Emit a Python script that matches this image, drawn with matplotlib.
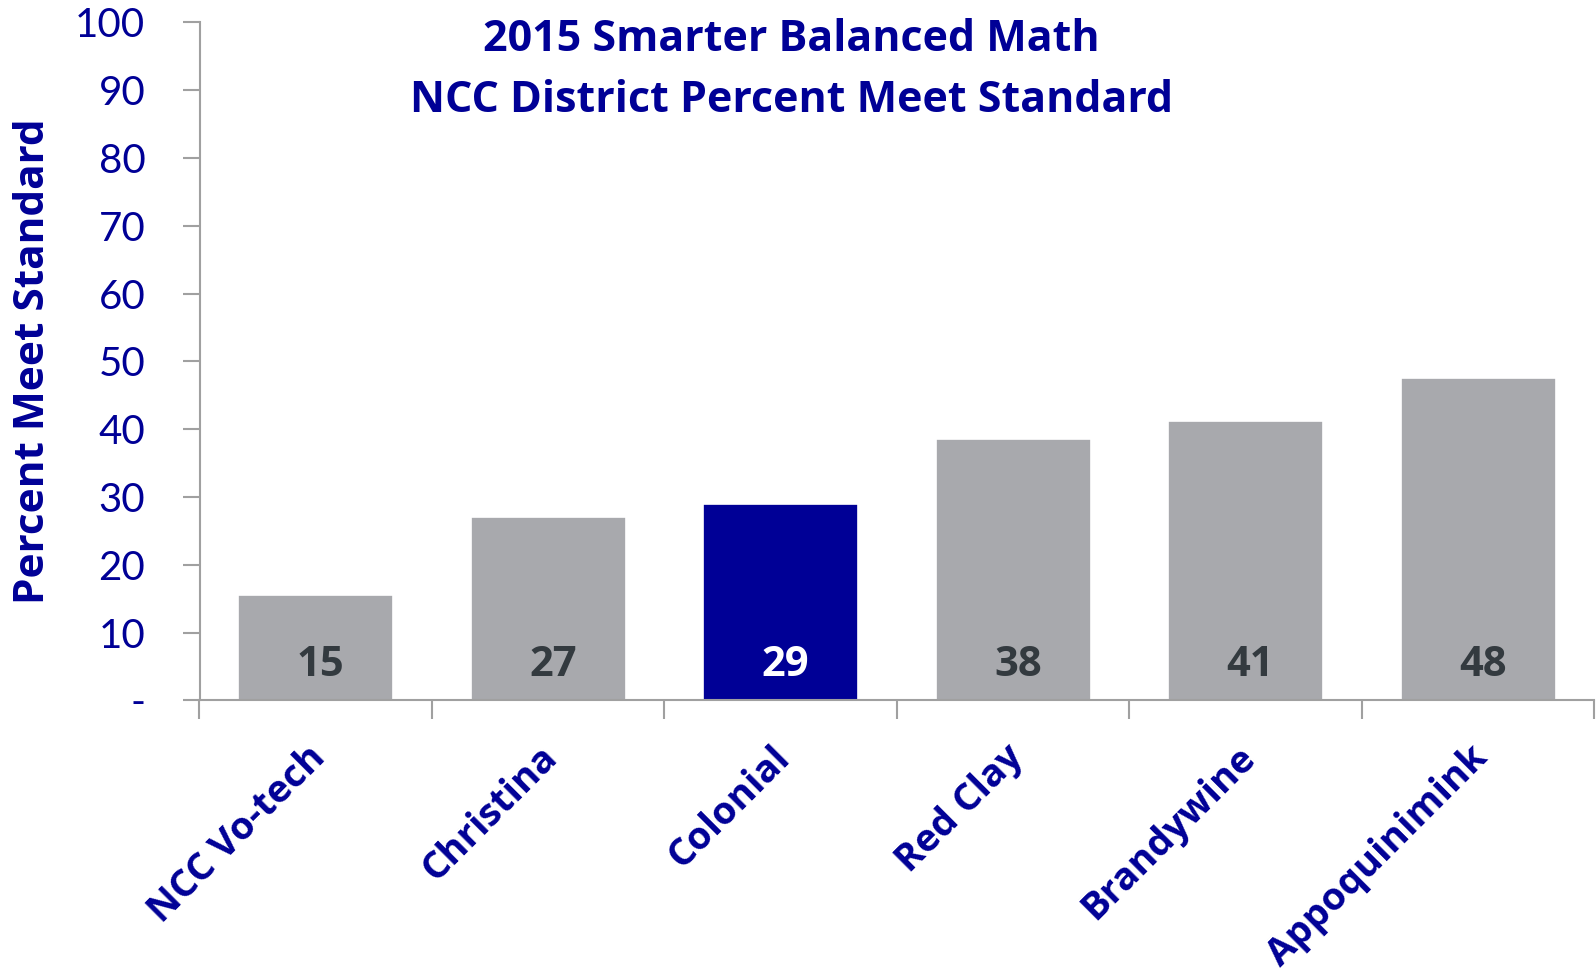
import matplotlib.pyplot as plt
import numpy as np

districts = ['NCC Vo-tech', 'Christina', 'Colonial', 'Red Clay', 'Brandywine', 'Appoquinimink']
pct_meet = [15.5, 27.1, 28.9, 38.5, 41.2, 47.6]
bar_labels = ['15', '27', '29', '38', '41', '48']
highlight = 'Colonial'

navy = '#000096'
gray_bar = '#A8A9AD'
axis_gray = '#A0A0A0'

plt.rcParams['font.family'] = ['Lato', 'DejaVu Sans']
bold_font = ['Open Sans', 'DejaVu Sans']

fig = plt.figure(figsize=(15.96, 9.74), dpi=100)
ax = fig.add_axes([0.125, 0.281, 0.874, 0.696])

x = np.arange(len(districts))
colors = [navy if d == highlight else gray_bar for d in districts]
ax.bar(x, pct_meet, width=0.667, color=colors, edgecolor='white', linewidth=1.2, zorder=2)

for i, (v, lab) in enumerate(zip(pct_meet, bar_labels)):
    c = 'white' if districts[i] == highlight else '#333A3F'
    ax.text(x[i] + 0.02, 5.2, lab, ha='center', va='center', fontsize=30,
            fontweight='bold', family=bold_font, color=c, zorder=3)

ax.set_xlim(-0.5, len(districts) - 0.5)
ax.set_ylim(0, 100)
ax.set_yticks(range(0, 101, 10))
ax.set_yticklabels(['-'] + [str(t) for t in range(10, 101, 10)])
ax.tick_params(axis='y', colors=axis_gray, labelcolor=navy, labelsize=29,
               length=12, width=1.5, pad=27)

# category boundaries as x ticks, names placed separately
ax.set_xticks(np.arange(-0.5, len(districts), 1.0))
ax.set_xticklabels([])
ax.tick_params(axis='x', colors=axis_gray, length=14, width=1.5)
for i, d in enumerate(districts):
    ax.text(x[i] - 0.04, -5.6, d, rotation=45, rotation_mode='anchor', ha='right', va='top',
            fontsize=27.5, fontweight='bold', family=bold_font, color=navy)

for s in ['top', 'right']:
    ax.spines[s].set_visible(False)
for s in ['left', 'bottom']:
    ax.spines[s].set_color(axis_gray)
    ax.spines[s].set_linewidth(1.5)

ax.set_ylabel('Percent Meet Standard', fontsize=30.5, fontweight='bold', family=bold_font,
              color=navy)
ax.yaxis.set_label_coords(-0.104, 0.5)

fig.text(0.496, 0.982, '2015 Smarter Balanced Math\nNCC District Percent Meet Standard',
         ha='center', va='top', fontsize=31, fontweight='bold', family=bold_font,
         color=navy, linespacing=1.55)

fig.savefig('out.png', dpi=100)
